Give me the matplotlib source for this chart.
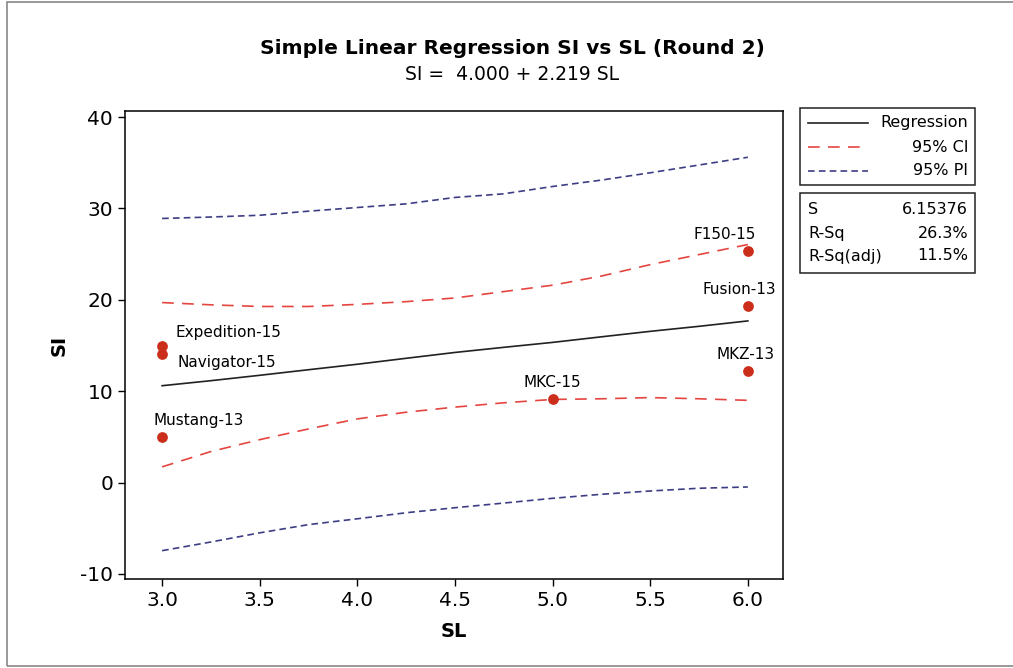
import matplotlib
matplotlib.use('Agg')
import matplotlib.pyplot as plt
from matplotlib.lines import Line2D
from matplotlib.patches import Rectangle

# observed points
sl = [3.0, 3.0, 3.0, 5.0, 6.0, 6.0, 6.0]
si = [14.94, 14.02, 4.95, 9.1, 12.22, 19.34, 25.3]
names = ['Expedition-15', 'Navigator-15', 'Mustang-13', 'MKC-15', 'MKZ-13', 'Fusion-13', 'F150-15']

# curves
grid = [3.0, 3.25, 3.5, 3.75, 4.0, 4.25, 4.5, 4.75, 5.0, 5.25, 5.5, 5.75, 6.0]
fit = [10.6, 11.15, 11.74, 12.35, 12.95, 13.6, 14.24, 14.8, 15.34, 15.95, 16.55, 17.1, 17.69]
ci_hi = [19.7, 19.45, 19.27, 19.27, 19.5, 19.8, 20.2, 20.9, 21.6, 22.6, 23.85, 24.95, 26.05]
ci_lo = [1.72, 3.4, 4.7, 5.87, 6.97, 7.7, 8.26, 8.73, 9.1, 9.17, 9.3, 9.17, 9.0]
pi_hi = [28.9, 29.06, 29.25, 29.7, 30.1, 30.5, 31.2, 31.6, 32.4, 33.1, 33.9, 34.75, 35.6]
pi_lo = [-7.45, -6.5, -5.5, -4.6, -3.96, -3.3, -2.75, -2.24, -1.72, -1.28, -0.92, -0.62, -0.48]

stats = [('S', '6.15376'), ('R-Sq', '26.3%'), ('R-Sq(adj)', '11.5%')]

# label offsets in points (dx, dy, ha)
offs = [(10, 10, 'left'), (11, -6, 'left'), (26, 12, 'center'), (0, 12, 'center'),
        (-2, 12, 'center'), (-6, 12, 'center'), (-17, 12, 'center')]

plt.rcParams['font.family'] = 'DejaVu Sans'
plt.rcParams['axes.unicode_minus'] = False

fig = plt.figure(figsize=(10.13, 6.68), dpi=100)
W, H = 1013, 668
ax = fig.add_axes([125 / W, 1 - 579 / H, (783 - 125) / W, (579 - 111) / H])

ci_col = '#e5453f'
pi_col = '#3d3d85'
ax.plot(grid, fit, color='#222222', lw=1.2)
ax.plot(grid, ci_hi, color=ci_col, lw=1.2, dashes=(7, 5))
ax.plot(grid, ci_lo, color=ci_col, lw=1.2, dashes=(7, 5))
ax.plot(grid, pi_hi, color=pi_col, lw=1.2, dashes=(4, 2.5))
ax.plot(grid, pi_lo, color=pi_col, lw=1.2, dashes=(4, 2.5))
ax.scatter(sl, si, s=45, color='#cc2e1c', zorder=5)

for x, y, n, (dx, dy, ha) in zip(sl, si, names, offs):
    ax.annotate(n, (x, y), xytext=(dx, dy), textcoords='offset points',
                ha=ha, va='center', fontsize=11)

ax.set_xlim(2.81, 6.18)
ax.set_ylim(-10.55, 40.66)
ax.set_xticks([3.0, 3.5, 4.0, 4.5, 5.0, 5.5, 6.0])
ax.set_xticklabels(['3.0', '3.5', '4.0', '4.5', '5.0', '5.5', '6.0'])
ax.set_yticks([-10, 0, 10, 20, 30, 40])
ax.tick_params(labelsize=14.5, length=5, width=1, direction='out')
for s in ax.spines.values():
    s.set_linewidth(1.1)
ax.set_xlabel('SL', fontsize=14, fontweight='bold', labelpad=9)
ax.set_ylabel('SI', fontsize=14, fontweight='bold', labelpad=8)

fig.text(512 / W, 1 - 48 / H, 'Simple Linear Regression SI vs SL (Round 2)',
         ha='center', va='center', fontsize=14.5, fontweight='bold')
fig.text(512 / W, 1 - 75 / H, 'SI =  4.000 + 2.219 SL',
         ha='center', va='center', fontsize=13.5)

# legend box
fig.add_artist(Rectangle((800 / W, 1 - 185 / H), 175 / W, 77 / H, transform=fig.transFigure,
                         fill=False, lw=1.1, ec='#222222'))
leg = [('Regression', '#222222', None), ('95% CI', ci_col, (7, 5)), ('95% PI', pi_col, (4, 2.5))]
for i, (lab, col, dash) in enumerate(leg):
    yy = 1 - (123 + i * 24) / H
    ln = Line2D([808 / W, 868 / W], [yy, yy], transform=fig.transFigure, color=col, lw=1.2)
    if dash:
        ln.set_dashes(dash)
    fig.add_artist(ln)
    fig.text(968 / W, yy, lab, ha='right', va='center', fontsize=11.5)

# stats box
fig.add_artist(Rectangle((800 / W, 1 - 273 / H), 175 / W, 80 / H, transform=fig.transFigure,
                         fill=False, lw=1.1, ec='#222222'))
for i, (k, v) in enumerate(stats):
    yy = 1 - (210 + i * 23) / H
    fig.text(808 / W, yy, k, ha='left', va='center', fontsize=11.5)
    fig.text(968 / W, yy, v, ha='right', va='center', fontsize=11.5)

# outer frame
fig.add_artist(Rectangle((7 / W, 2 / H), 1.02, 1 - 4 / H, transform=fig.transFigure,
                         fill=False, lw=1.2, ec='#888888'))

fig.savefig('out.png', dpi=100)
